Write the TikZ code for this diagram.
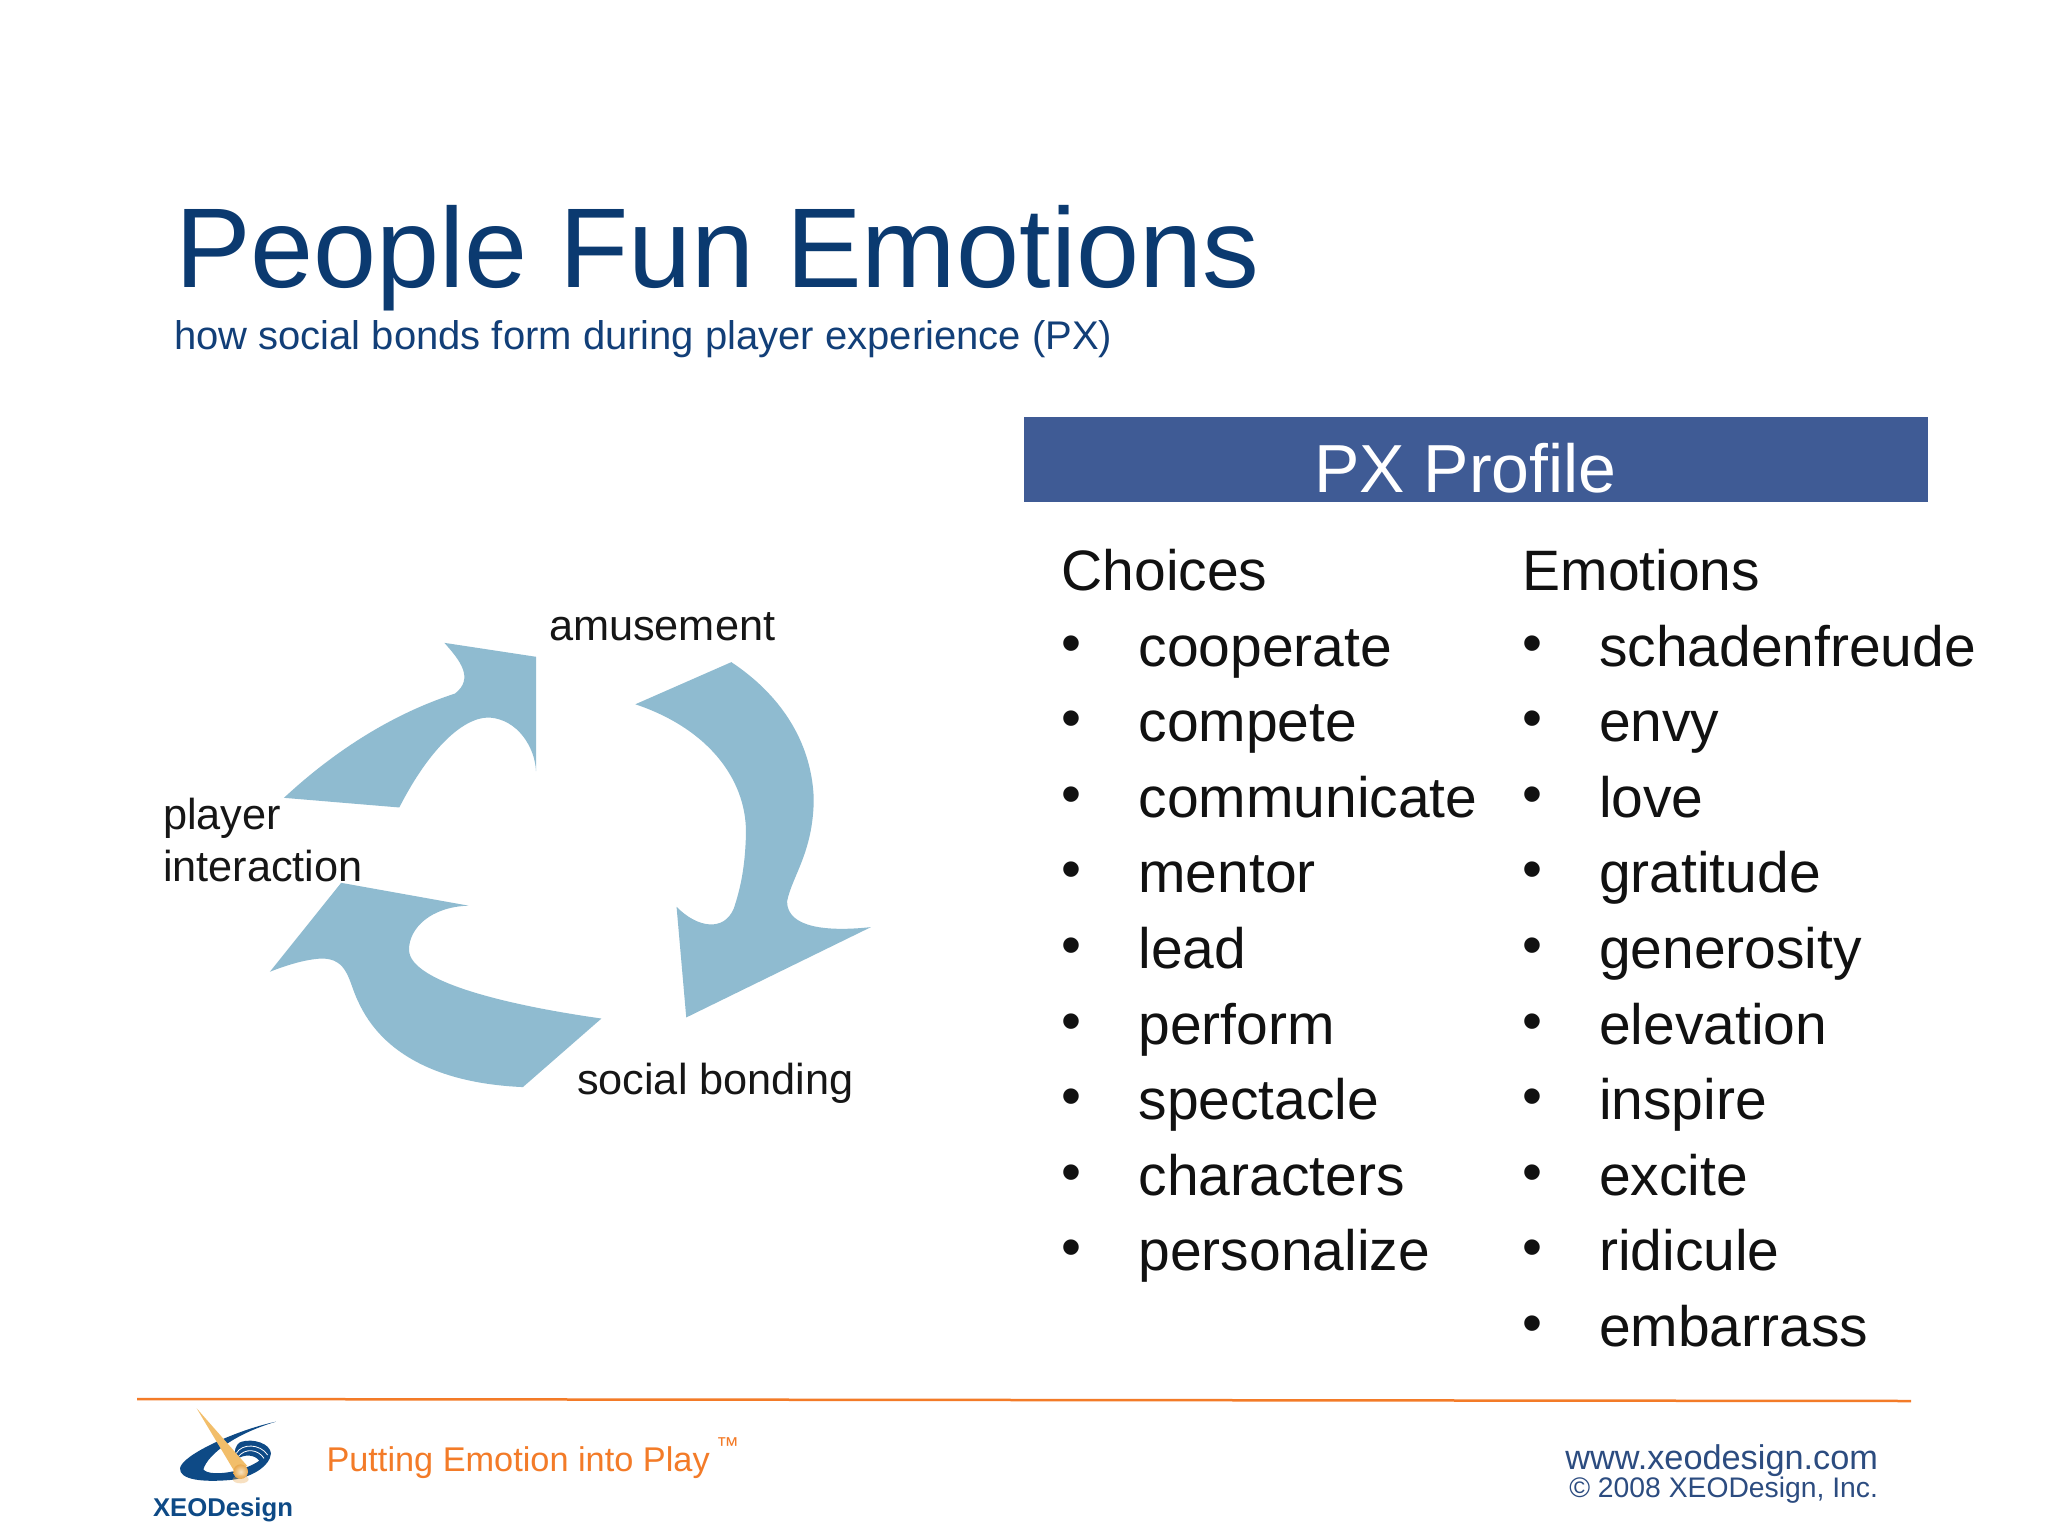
\documentclass[tikz,border=0pt]{standalone}
\usepackage{fontspec}
\setmainfont{Liberation Sans}
\definecolor{titleblue}{HTML}{0B3A70}
\definecolor{subblue}{HTML}{123F78}
\definecolor{headblue}{HTML}{3F5B95}
\definecolor{arrowblue}{HTML}{8FBBD0}
\definecolor{footorange}{HTML}{F37B28}
\definecolor{footblue}{HTML}{2C4C80}
\definecolor{logoblue}{HTML}{0E4A86}
\definecolor{ink}{HTML}{111111}
\definecolor{labelink}{HTML}{161616}
\definecolor{wedgegold}{HTML}{F2BE6A}
\definecolor{ballpale}{HTML}{F7E3C0}
\definecolor{ballgold}{HTML}{E9A84E}
\tikzset{
  txt/.style={inner sep=0pt,outer sep=0pt,anchor=base west},
  titletxt/.style={txt,text=titleblue,font=\fontsize{113.4}{113.4}\selectfont},
  subtxt/.style={txt,text=subblue,font=\fontsize{40}{40}\selectfont},
  listtxt/.style={txt,text=ink,font=\fontsize{57}{57}\selectfont},
  difflabel/.style={txt,text=labelink,font=\fontsize{43.3}{43.3}\selectfont},
  arrowshape/.style={fill=arrowblue,draw=none},
}
\begin{document}
\begin{tikzpicture}[x=1pt,y=-1pt]
\useasboundingbox (0,0) rectangle (2048,1536);
\fill[white] (0,0) rectangle (2048,1536);

\node[titletxt] (title) at (175,287) {People Fun Emotions};
\node[subtxt] (subtitle) at (174,349) {how social bonds form during player experience (PX)};

\fill[headblue] (1024,417) rectangle (1928,501.5);
\node[txt,anchor=base,text=white,font=\fontsize{68}{68}\selectfont] (profile) at (1465.5,492) {PX Profile};

\node[listtxt] (choices) at (1061.5,590) {Choices};
\node[listtxt] (emotions) at (1522.5,590) {Emotions};

\foreach \w [count=\i from 0] in {cooperate,compete,communicate,mentor,lead,perform,spectacle,characters,personalize}{
  \node[listtxt] (cb\i) at (1061,662+75.6*\i) {•};
  \node[listtxt] (ct\i) at (1138.5,666+75.6*\i) {\w};
}
\foreach \w [count=\i from 0] in {schadenfreude,envy,love,gratitude,generosity,elevation,inspire,excite,ridicule,embarrass}{
  \node[listtxt] (eb\i) at (1522,662+75.6*\i) {•};
  \node[listtxt] (et\i) at (1599,666+75.6*\i) {\w};
}

% cycle arrows, traced in crop coordinates
\begin{scope}[shift={(140pt,-580pt)},x=0.4847pt,y=-0.3571pt]
\fill[arrowshape] (817,215) -- (628,176) .. controls (660,225) and (690,275) .. (650,318)
  .. controls (520,375) and (400,480) .. (297,610) -- (535,637)
  .. controls (590,490) and (660,385) .. (720,385)
  .. controls (780,390) and (815,470) .. (817,535) -- cycle;
\fill[arrowshape] (1220,230) -- (1022,348) .. controls (1180,420) and (1255,570) .. (1250,720)
  .. controls (1248,800) and (1240,860) .. (1225,920)
  .. controls (1205,985) and (1150,975) .. (1107,915)
  -- (1127,1225) -- (1508,972)
  .. controls (1420,985) and (1335,975) .. (1335,900)
  .. controls (1345,830) and (1390,760) .. (1390,610)
  .. controls (1385,450) and (1320,320) .. (1220,230) -- cycle;
\fill[arrowshape] (415,848) -- (678,912) .. controls (600,915) and (555,975) .. (555,1035)
  .. controls (555,1130) and (780,1195) .. (952,1228)
  -- (790,1420) .. controls (620,1410) and (500,1330) .. (450,1180)
  .. controls (430,1125) and (430,1060) .. (375,1060)
  .. controls (340,1062) and (300,1080) .. (268,1097) -- cycle;
\end{scope}

\node[difflabel] (amuse) at (549,640) {amusement};
\node[difflabel] (player) at (163,829) {player};
\node[difflabel] (interact) at (163,881.5) {interaction};
\node[difflabel] (social) at (577,1094) {social bonding};

% footer
\draw[footorange,line width=2.5pt] (137,1399) -- (1911,1401);

% logo, traced from a 3x crop at (170,1400)
\begin{scope}[shift={(170pt,-1400pt)},x=0.3333pt,y=-0.3333pt]
\fill[logoblue] (318,65) .. controls (200,90) and (35,165) .. (30,205)
  .. controls (28,240) and (100,247) .. (180,240)
  .. controls (240,235) and (300,200) .. (303,160)
  .. controls (300,130) and (250,115) .. (215,125)
  .. controls (195,132) and (190,155) .. (200,178)
  .. controls (225,160) and (255,165) .. (268,182)
  .. controls (250,195) and (215,210) .. (185,215)
  .. controls (150,222) and (110,222) .. (100,208)
  .. controls (115,160) and (200,100) .. (318,65) -- cycle;
\draw[white,line width=0.8pt] (199,160) .. controls (215,130) and (270,130) .. (293,165);
\draw[white,line width=0.8pt] (203,172) .. controls (225,142) and (265,148) .. (282,175);
\fill[wedgegold] (80,25) -- (192,212) -- (232,198) -- cycle;
\shade[inner color=ballpale,outer color=ballgold] (212,215) circle (22);
\fill[ballgold,opacity=0.35] (212,238) ellipse (24 and 12);
\end{scope}

\node[txt,text=logoblue,font=\bfseries\fontsize{25.7}{25.7}\selectfont] (brand) at (153,1516) {XEODesign};
\node[txt,text=footorange,font=\fontsize{34.3}{34.3}\selectfont] (tagline) at (326.5,1471) {Putting Emotion into Play};
\node[txt,text=footorange,font=\fontsize{23}{23}\selectfont] (tm) at (716,1453) {™};
\node[txt,anchor=base east,text=footblue,font=\fontsize{34.3}{34.3}\selectfont] (web) at (1878,1469) {www.xeodesign.com};
\node[txt,anchor=base east,text=footblue,font=\fontsize{28.3}{28.3}\selectfont] (copy) at (1878,1497) {© 2008 XEODesign, Inc.};
\end{tikzpicture}
\end{document}
